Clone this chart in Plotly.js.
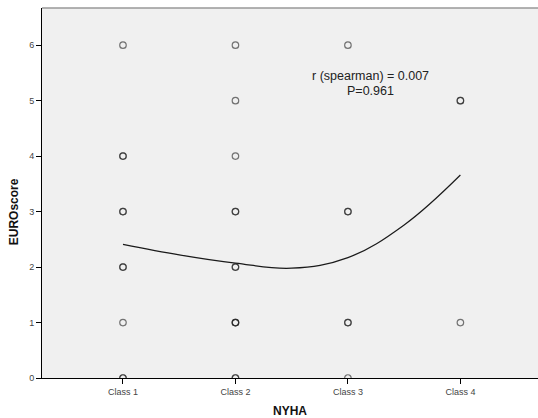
<!DOCTYPE html>
<html>
<head>
<meta charset="utf-8">
<script src="https://cdn.plot.ly/plotly-3.0.1.min.js"></script>
<style>html,body{margin:0;padding:0;background:#fff;}#chart{width:538px;height:418px;}</style>
</head>
<body>
<div id="chart"></div>
<script>
// Observed NYHA class (1-4) and EUROscore, duplicates mark overlapping cases
const nyhaClass = [1,1,1,1,1,1,1,1,1,1, 2,2,2,2,2,2,2,2,2,2,2,2, 3,3,3,3,3,3, 4,4,4];
const euroScore = [0,0,1,2,2,3,3,4,4,6, 0,0,1,1,2,2,3,3,4,5,6,1, 0,1,1,3,3,6, 1,5,5];
// Loess fit line
const fitX = [1, 1.5, 2, 2.5, 3, 3.5, 4];
const fitY = [2.41, 2.22, 2.07, 1.98, 2.17, 2.76, 3.66];
const tickVals = [1, 2, 3, 4];
const tickLabels = ["Class 1", "Class 2", "Class 3", "Class 4"];
const yTicks = [0, 1, 2, 3, 4, 5, 6];

const traces = [
  {
    x: nyhaClass, y: euroScore, type: 'scatter', mode: 'markers',
    marker: {symbol: 'circle-open', size: 6.5, color: 'rgba(30,30,30,0.6)', line: {width: 1.2}},
    hoverinfo: 'none', showlegend: false
  },
  {
    x: fitX, y: fitY, type: 'scatter', mode: 'lines',
    line: {shape: 'spline', smoothing: 1.1, color: '#1a1a1a', width: 1.2},
    hoverinfo: 'none', showlegend: false
  }
];

const layout = {
  width: 538, height: 418,
  margin: {l: 42, r: 0, t: 8, b: 40},
  paper_bgcolor: '#ffffff', plot_bgcolor: '#f0f0f0',
  font: {family: 'Liberation Sans, Arial, sans-serif', color: '#333'},
  xaxis: {
    range: [0.28, 4.69], tickvals: tickVals, ticktext: tickLabels,
    showgrid: false, zeroline: false, showline: true, linecolor: '#000', linewidth: 1,
    ticks: 'outside', ticklen: 5, tickcolor: '#000', tickfont: {size: 9, color: '#444'},
    title: {text: '<b>NYHA</b>', font: {size: 12, color: '#111'}, standoff: 12}
  },
  yaxis: {
    range: [0, 6.67], tickvals: yTicks,
    showgrid: false, zeroline: false, showline: true, linecolor: '#000', linewidth: 1,
    ticks: 'outside', ticklen: 5, tickcolor: '#000', tickfont: {size: 9, color: '#444'}
  },
  shapes: [
    {type: 'line', xref: 'paper', yref: 'paper', x0: 0, x1: 1, y0: 1, y1: 1,
     line: {color: '#999', width: 1.5}}
  ],
  annotations: [
    {xref: 'x', yref: 'y', x: 3.2, y: 5.44, text: 'r (spearman) = 0.007',
     showarrow: false, align: 'center', font: {size: 12.5, color: '#222'}},
    {xref: 'x', yref: 'y', x: 3.2, y: 5.18, text: 'P=0.961',
     showarrow: false, align: 'center', font: {size: 12.5, color: '#222'}},
    {xref: 'paper', yref: 'paper', x: -0.057, y: 0.45, xanchor: 'center', yanchor: 'middle',
     text: '<b>EUROscore</b>', textangle: -90, showarrow: false, font: {size: 12, color: '#111'}}
  ]
};

Plotly.newPlot('chart', traces, layout, {displayModeBar: false, staticPlot: true});
</script>
</body>
</html>
